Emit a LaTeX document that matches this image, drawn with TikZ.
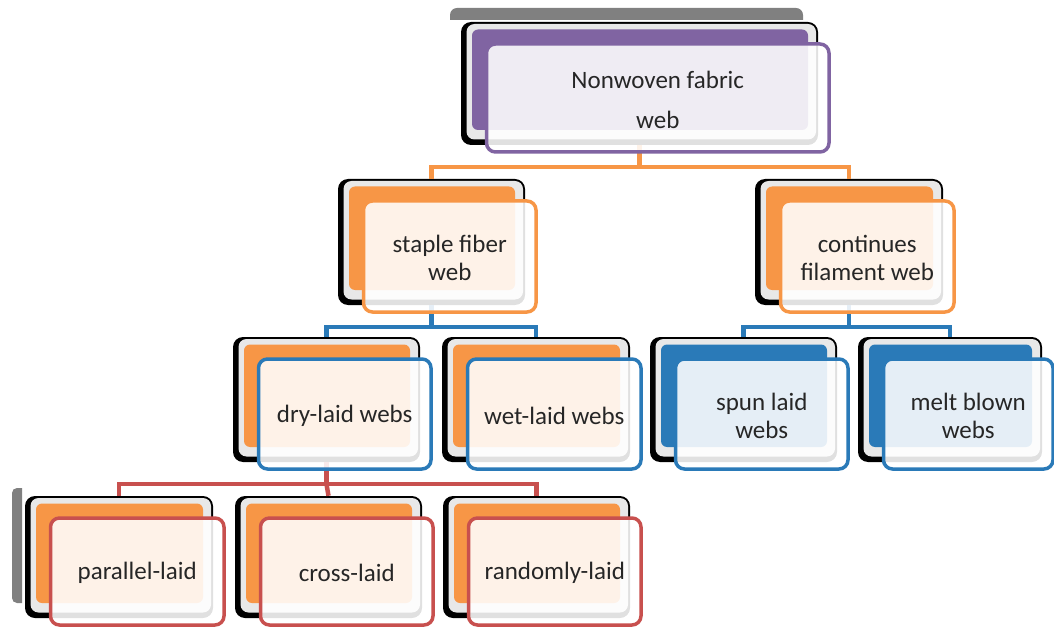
\documentclass[tikz,border=0pt]{standalone}
\usepackage{fontspec}
\setmainfont{Carlito}
\usetikzlibrary{fit}

\definecolor{vio}{RGB}{128,100,162}
\definecolor{org}{RGB}{247,150,70}
\definecolor{blu}{RGB}{42,122,184}
\definecolor{rd}{RGB}{200,80,78}
\definecolor{band}{RGB}{232,232,232}
\definecolor{ink}{RGB}{38,38,38}
\definecolor{bar}{RGB}{128,128,128}

\tikzset{
  card/.style={inner sep=0pt, fill=white, fill opacity=0.88,
    line width=3.5pt, rounded corners=9pt},
  label text/.style={inner sep=0pt, align=center, text=ink,
    font=\fontsize{25}{28}\selectfont},
  backbox/.style={inner sep=0pt, fill=black, rounded corners=10pt},
  conn/.style={line width=4.5pt},
}

% back plate: black outline, light band, coloured panel
\newcommand\backplate[6]{%
  \node[backbox, fit={(#2,#3) (#4,#5)}] (#1-b) {};
  \fill[band, rounded corners=8pt] (#2+5.5,#3+2) rectangle (#4-2,#5-5.5);
  \fill[#6, rounded corners=6pt] (#2+11,#3+7.5) rectangle (#4-10,#5-15);
}
% front card with its text, offset from the back plate
\newcommand\frontcard[7]{%
  \node[card, draw=#6, fit={(#2+25.5,#3+22) (#4+11,#5+7)}] (#1) {};
  \node[label text] (#1-t) at ([yshift=-1.5pt]#1.center) {#7};
}

\begin{document}
\begin{tikzpicture}[x=1pt, y=-1pt]
\useasboundingbox (0,0) rectangle (1054,628);

% grey strips
\fill[bar] (450,20) {[rounded corners=7pt] -- (450,8) -- (803,8)} -- (803,20) -- cycle;
\fill[bar] (22,488) {[rounded corners=5pt] -- (12,488) -- (12,603)} -- (22,603) -- cycle;

% back plates
\backplate{top}{461}{22}{818}{145}{vio}
\backplate{staple}{338}{179}{525}{305}{org}
\backplate{cont}{755}{179}{943}{305}{org}
\backplate{dry}{233}{337}{420}{462}{org}
\backplate{wet}{442}{337}{630}{462}{org}
\backplate{spun}{650}{337}{837}{462}{blu}
\backplate{melt}{858}{337}{1042}{462}{blu}
\backplate{par}{25}{496}{213}{618}{org}
\backplate{cross}{235}{496}{422}{618}{org}
\backplate{rand}{443}{496}{630}{618}{org}

% connectors
\coordinate (j1) at ([yshift=-22pt]top-b.south);
\draw[conn, org] (staple-b.north) |- (j1) -| (cont-b.north);
\draw[conn, org] (top-b.south) -- (j1);

\coordinate (j2) at ([yshift=-22pt]staple-b.south);
\draw[conn, blu] (dry-b.north) |- (j2) -| (wet-b.north);
\draw[conn, blu] (staple-b.south) -- (j2);

\coordinate (j3) at ([yshift=-22pt]cont-b.south);
\draw[conn, blu] (spun-b.north) |- (j3) -| (melt-b.north);
\draw[conn, blu] (cont-b.south) -- (j3);

\coordinate (j4) at ([yshift=-22pt]dry-b.south);
\draw[conn, rd] (par-b.north) |- (j4) -| (rand-b.north);
\draw[conn, rd] (dry-b.south) -- (j4);
\draw[conn, rd] (j4) -- (cross-b.north);

% front cards
\frontcard{top}{461}{22}{818}{145}{vio}{Nonwoven fabric\\[12pt]web}
\frontcard{staple}{338}{179}{525}{305}{org}{staple fiber\\web}
\frontcard{cont}{755}{179}{943}{305}{org}{continues\\filament web}
\frontcard{dry}{233}{337}{420}{462}{blu}{dry-laid webs}
\frontcard{wet}{442}{337}{630}{462}{blu}{wet-laid webs}
\frontcard{spun}{650}{337}{837}{462}{blu}{spun laid\\webs}
\frontcard{melt}{858}{337}{1042}{462}{blu}{melt blown\\webs}
\frontcard{par}{25}{496}{213}{618}{rd}{parallel-laid}
\frontcard{cross}{235}{496}{422}{618}{rd}{cross-laid}
\frontcard{rand}{443}{496}{630}{618}{rd}{randomly-laid}
\end{tikzpicture}
\end{document}
